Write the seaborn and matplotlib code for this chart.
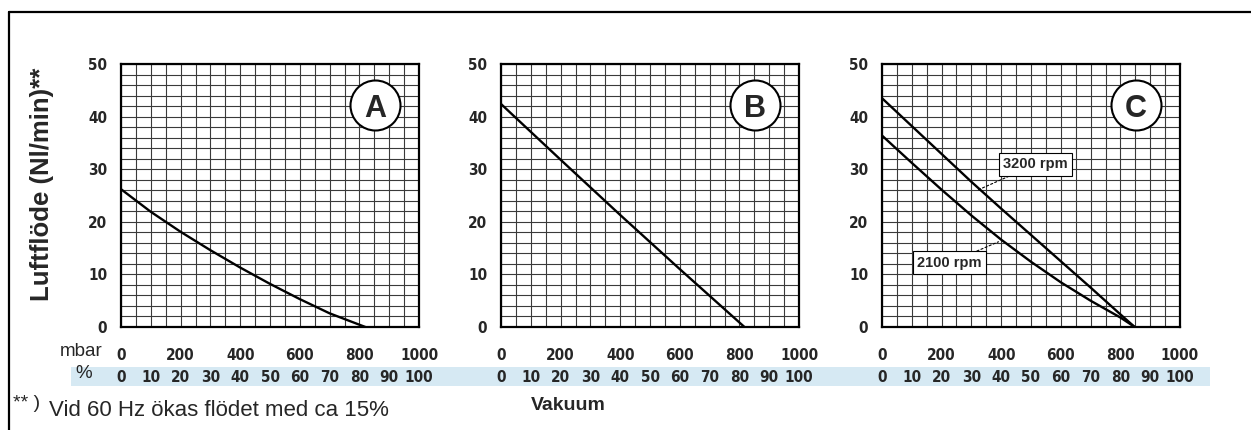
import numpy as np
import pandas as pd
import seaborn as sns
import matplotlib.pyplot as plt
from matplotlib.ticker import MultipleLocator
from matplotlib.lines import Line2D
from matplotlib.patches import Rectangle

# values (mbar vacuum -> air flow Nl/min)
mbar_a = [0, 100, 200, 300, 400, 500, 600, 700, 820]
flow_a = [26.2, 21.9, 18.1, 14.6, 11.3, 8.2, 5.3, 2.6, 0.0]

mbar_b = [0, 200, 400, 600, 817]
flow_b = [42.4, 31.8, 21.3, 11.0, 0.0]

mbar_c = [0, 100, 200, 300, 400, 500, 600, 700, 800, 848]
flow_c3200 = [43.5, 38.2, 32.9, 27.6, 22.5, 17.5, 12.5, 7.5, 2.4, 0.0]
flow_c2100 = [36.4, 31.2, 26.1, 21.2, 16.6, 12.4, 8.5, 5.0, 1.8, 0.0]

panel_letters = ['A', 'B', 'C']
mbar_ticks = [0, 200, 400, 600, 800, 1000]
pct_ticks = [0, 10, 20, 30, 40, 50, 60, 70, 80, 90, 100]

df_a = pd.DataFrame({'mbar': mbar_a, 'flow': flow_a, 'rpm': 'std'})
df_b = pd.DataFrame({'mbar': mbar_b, 'flow': flow_b, 'rpm': 'std'})
df_c = pd.concat([
    pd.DataFrame({'mbar': mbar_c, 'flow': flow_c3200, 'rpm': '3200 rpm'}),
    pd.DataFrame({'mbar': mbar_c, 'flow': flow_c2100, 'rpm': '2100 rpm'}),
])
frames = [df_a, df_b, df_c]

sns.set_style('white')
plt.rcParams['font.family'] = ['Liberation Sans', 'DejaVu Sans']

fig = plt.figure(figsize=(12.51, 4.30), dpi=100)


def tick_font(labels):
    for lab in labels:
        lab.set_fontfamily('DejaVu Sans')
        lab.set_fontstretch('condensed')
        lab.set_fontweight('bold')
        lab.set_fontsize(11)


lefts = [121, 501, 882]
W, H = 1251, 430
for i, (df, letter) in enumerate(zip(frames, panel_letters)):
    ax = fig.add_axes([lefts[i] / W, 1 - 327 / H, 298 / W, 263 / H])
    sns.lineplot(data=df, x='mbar', y='flow', hue='rpm', palette=['black'] * df.rpm.nunique(),
                 legend=False, lw=1.7, ax=ax, zorder=3, sort=False)
    ax.set_xlim(0, 1000)
    ax.set_ylim(0, 50)
    ax.set_xticks(mbar_ticks)
    ax.set_yticks(range(0, 51, 10))
    ax.xaxis.set_minor_locator(MultipleLocator(50))
    ax.yaxis.set_minor_locator(MultipleLocator(2))
    ax.grid(which='both', color='#3a3a3a', lw=0.8)
    ax.tick_params(which='both', length=0)
    ax.tick_params(axis='x', pad=15)
    ax.tick_params(axis='y', pad=10)
    tick_font(ax.get_xticklabels() + ax.get_yticklabels())
    for s in ax.spines.values():
        s.set_visible(True)
        s.set_color('black')
        s.set_linewidth(1.6)
    ax.set_xlabel('')
    ax.set_ylabel('')

    # % row under the mbar row (100 % = 1000 mbar)
    sec = ax.secondary_xaxis(-0.1635, functions=(lambda x: x / 10, lambda p: p * 10))
    sec.set_xticks(pct_ticks)
    sec.tick_params(length=0, pad=0)
    sec.spines['bottom'].set_visible(False)
    tick_font(sec.get_xticklabels())

    # circled panel letter
    ax.scatter([0.852], [0.843], s=36 ** 2, facecolor='white', edgecolor='black',
               lw=1.5, transform=ax.transAxes, zorder=5, clip_on=False)
    ax.text(0.852, 0.843, letter, transform=ax.transAxes, ha='center', va='center_baseline',
            fontsize=22, fontweight='bold', zorder=6)

    if letter == 'C':
        box = dict(boxstyle='square,pad=0.3', fc='white', ec='black', lw=0.8)
        arrow = dict(arrowstyle='-', ls=(0, (2, 2)), lw=0.8, color='black', shrinkA=0, shrinkB=0)
        ax.annotate('3200 rpm', xy=(320, 26.0), xytext=(515, 30.9), ha='center', va='center',
                    fontsize=10.5, fontweight='bold', bbox=box, arrowprops=arrow, zorder=6)
        ax.annotate('2100 rpm', xy=(391, 16.2), xytext=(226, 12.2), ha='center', va='center',
                    fontsize=10.5, fontweight='bold', bbox=box, arrowprops=arrow, zorder=6)

# light blue band behind the % row
fig.patches.append(Rectangle((71 / W, 1 - 386 / H), (1210 - 71) / W, 19 / H,
                             transform=fig.transFigure, facecolor='#d6e9f3',
                             edgecolor='none', zorder=-1))

# frame lines (left and top)
fig.add_artist(Line2D([9 / W, 9 / W], [0, 1 - 11.5 / H], transform=fig.transFigure,
                      color='black', lw=1.6))
fig.add_artist(Line2D([9 / W, 1], [1 - 11.5 / H, 1 - 11.5 / H], transform=fig.transFigure,
                      color='black', lw=1.6))

fig.text(42 / W, 1 - 184 / H, 'Luftflöde (Nl/min)**', rotation=90, ha='center', va='center',
         fontsize=18.5, fontweight='bold')
fig.text(103 / W, 1 - 352 / H, 'mbar', ha='right', va='center', fontsize=13.5)
fig.text(84 / W, 1 - 374 / H, '%', ha='center', va='center', fontsize=13.5)
fig.text(568 / W, 1 - 406 / H, 'Vakuum', ha='center', va='center', fontsize=14, fontweight='bold')
fig.text(13 / W, 1 - 404 / H, '** )', ha='left', va='center', fontsize=14)
fig.text(49 / W, 1 - 411 / H, 'Vid 60 Hz ökas flödet med ca 15%', ha='left', va='center',
         fontsize=16)

fig.savefig('out.png', dpi=100, facecolor='white')
